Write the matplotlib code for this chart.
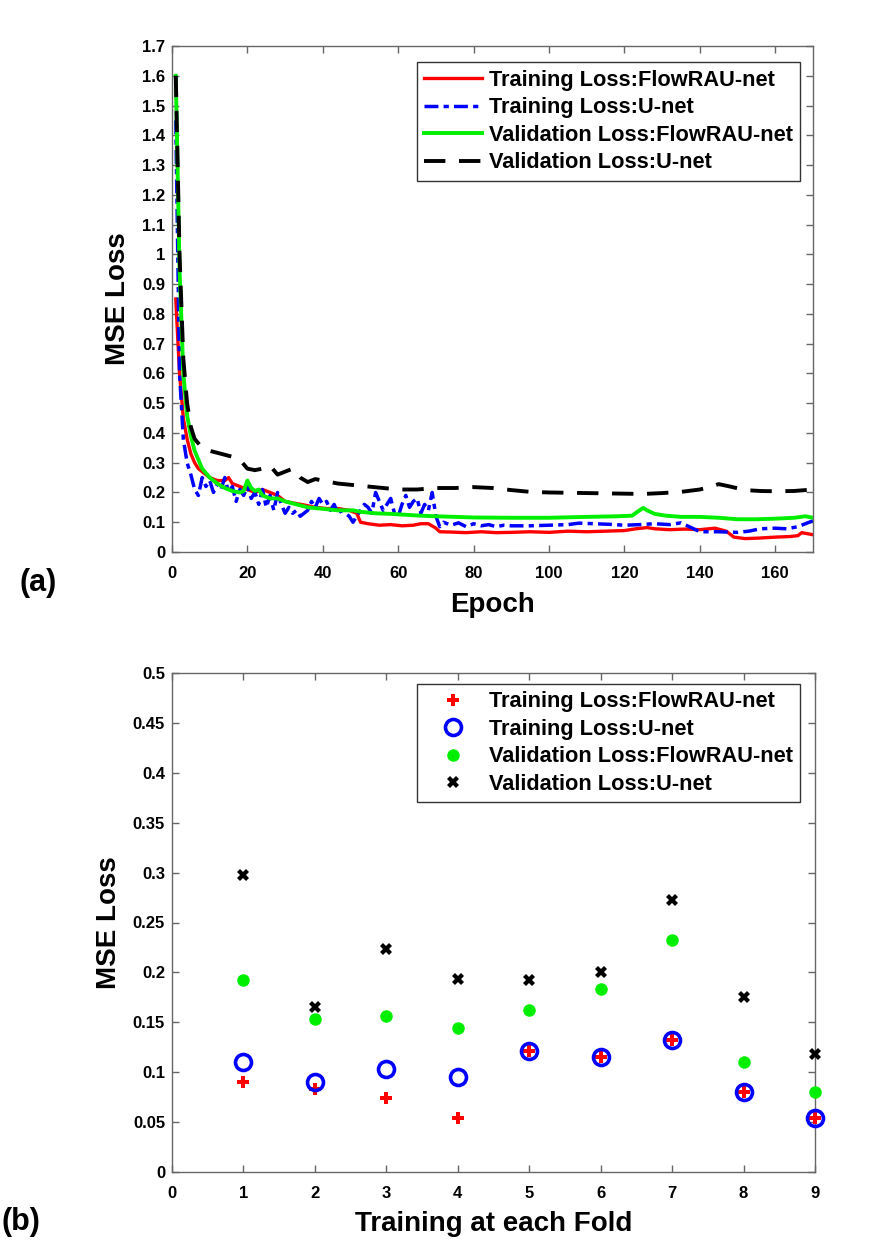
import matplotlib
matplotlib.use('Agg')
import matplotlib.pyplot as plt
import numpy as np

plt.rcParams['font.family'] = ['Liberation Sans', 'DejaVu Sans']
plt.rcParams['font.weight'] = 'bold'

# ---- (a) loss vs epoch ----
labels = ['Training Loss:FlowRAU-net', 'Training Loss:U-net',
          'Validation Loss:FlowRAU-net', 'Validation Loss:U-net']

ep_red = [1, 2, 3, 4, 5, 6, 7, 8, 9, 10, 12, 14, 15, 16, 18, 20, 22, 24, 26, 28, 30, 32, 35, 38,
          41, 44, 47, 49, 50, 52, 55, 58, 61, 64, 66, 68, 70, 71, 74, 78, 82, 86, 90, 95, 100,
          105, 110, 115, 120, 123, 126, 128, 132, 136, 140, 144, 147, 149, 152, 156, 160, 164,
          166, 167, 170]
loss_red = [0.85, 0.6, 0.45, 0.38, 0.33, 0.3, 0.28, 0.27, 0.26, 0.25, 0.24, 0.24, 0.25, 0.23,
            0.22, 0.21, 0.2, 0.21, 0.2, 0.19, 0.17, 0.165, 0.158, 0.15, 0.146, 0.146, 0.14, 0.13,
            0.1, 0.095, 0.09, 0.092, 0.088, 0.09, 0.095, 0.095, 0.08, 0.068, 0.067, 0.065, 0.068,
            0.065, 0.066, 0.068, 0.066, 0.07, 0.068, 0.07, 0.072, 0.078, 0.082, 0.078, 0.075,
            0.077, 0.075, 0.08, 0.07, 0.05, 0.045, 0.047, 0.05, 0.052, 0.055, 0.065, 0.058]

ep_blue = list(range(1, 71)) + [71, 72, 74, 76, 78, 80, 82, 84, 86, 88, 90, 95, 100, 105, 108,
                                112, 116, 120, 124, 128, 132, 135, 138, 140, 145, 150, 153, 156,
                                160, 163, 166, 168, 170]
loss_blue = [1.45, 0.6, 0.38, 0.3, 0.26, 0.21, 0.19, 0.25, 0.22, 0.24,
             0.2, 0.23, 0.21, 0.25, 0.2, 0.22, 0.17, 0.21, 0.19, 0.22,
             0.18, 0.2, 0.16, 0.21, 0.15, 0.19, 0.14, 0.2, 0.16, 0.13,
             0.15, 0.13, 0.14, 0.12, 0.13, 0.14, 0.17, 0.15, 0.18, 0.16,
             0.17, 0.14, 0.16, 0.13, 0.14, 0.13, 0.12, 0.1, 0.12, 0.14,
             0.16, 0.15, 0.13, 0.2, 0.17, 0.14, 0.16, 0.18, 0.13, 0.12,
             0.16, 0.19, 0.15, 0.17, 0.18, 0.13, 0.16, 0.14, 0.2, 0.12,
             0.085, 0.1, 0.09, 0.098, 0.085, 0.095, 0.088, 0.092, 0.085, 0.09, 0.088, 0.088,
             0.09, 0.092, 0.097, 0.095, 0.093, 0.09, 0.092, 0.095, 0.092, 0.098, 0.08, 0.068,
             0.068, 0.066, 0.07, 0.078, 0.08, 0.078, 0.085, 0.095, 0.105]

ep_green = [1, 2, 3, 4, 5, 6, 7, 8, 10, 12, 14, 16, 18, 19, 20, 21, 22, 23, 24, 26, 28, 30, 33,
            36, 40, 44, 48, 50, 54, 58, 62, 66, 70, 75, 80, 90, 100, 110, 118, 122, 124, 125,
            126, 128, 131, 135, 140, 145, 150, 155, 160, 165, 168, 170]
loss_green = [1.6, 0.95, 0.6, 0.46, 0.39, 0.34, 0.31, 0.28, 0.25, 0.23, 0.215, 0.205, 0.2, 0.205,
              0.24, 0.215, 0.205, 0.21, 0.19, 0.18, 0.18, 0.17, 0.16, 0.15, 0.145, 0.14, 0.14,
              0.135, 0.13, 0.128, 0.125, 0.122, 0.12, 0.118, 0.116, 0.115, 0.115, 0.118, 0.12,
              0.122, 0.14, 0.148, 0.14, 0.128, 0.122, 0.118, 0.118, 0.115, 0.11, 0.11, 0.112,
              0.115, 0.12, 0.115]

ep_black = [1, 2, 3, 4, 5, 6, 8, 10, 13, 16, 18, 20, 22, 24, 26, 28, 30, 32, 34, 36, 38, 40, 44,
            48, 52, 56, 60, 65, 70, 75, 80, 85, 90, 95, 100, 110, 120, 125, 130, 135, 140, 143,
            145, 148, 152, 156, 160, 165, 170]
loss_black = [1.6, 1.0, 0.65, 0.5, 0.42, 0.38, 0.35, 0.34, 0.33, 0.32, 0.31, 0.28, 0.275, 0.28,
              0.29, 0.26, 0.27, 0.28, 0.25, 0.235, 0.245, 0.24, 0.23, 0.225, 0.22, 0.215, 0.21,
              0.21, 0.215, 0.215, 0.218, 0.215, 0.208, 0.202, 0.2, 0.198, 0.196, 0.195, 0.198,
              0.202, 0.21, 0.22, 0.228, 0.22, 0.208, 0.205, 0.204, 0.205, 0.21]

# ---- (b) loss per fold ----
folds = [1, 2, 3, 4, 5, 6, 7, 8, 9]
fold_train_flow = [0.09, 0.083, 0.074, 0.054, 0.121, 0.115, 0.132, 0.08, 0.054]
fold_train_unet = [0.11, 0.09, 0.103, 0.095, 0.121, 0.115, 0.132, 0.08, 0.054]
fold_val_flow = [0.192, 0.153, 0.156, 0.144, 0.162, 0.183, 0.232, 0.11, 0.08]
fold_val_unet = [0.298, 0.165, 0.223, 0.193, 0.192, 0.2, 0.273, 0.175, 0.118]

spine_col = '#666666'


def style_axes(ax):
    for s in ax.spines.values():
        s.set_color(spine_col)
        s.set_linewidth(1.0)
    ax.tick_params(direction='in', top=True, right=True, length=5, width=1.0,
                   color=spine_col, labelsize=12)
    ax.tick_params(axis='x', pad=10)
    ax.tick_params(axis='y', pad=5)
    for lab in ax.get_xticklabels() + ax.get_yticklabels():
        lab.set_fontweight('bold')


def add_legend(ax, anchor):
    leg = ax.legend(loc='upper right', bbox_to_anchor=anchor, borderaxespad=0,
                    fontsize=15.7, handlelength=2.65, handletextpad=0.32, labelspacing=0.3,
                    fancybox=False, framealpha=1, edgecolor='#333333', borderpad=0.34)
    leg.get_frame().set_linewidth(1.0)
    return leg


fig = plt.figure(figsize=(8.95, 12.46), dpi=100)

ax1 = fig.add_axes([172/895, 1-552/1246, 641/895, 506/1246])
ax1.plot(ep_red, loss_red, color='#ff0000', lw=2.4, label=labels[0])
ax1.plot(ep_blue, loss_blue, color='#0000ff', lw=2.5, ls=(0, (4, 1.5, 1.5, 1.5)), label=labels[1])
ax1.plot(ep_green, loss_green, color='#00ee00', lw=2.8, label=labels[2])
ax1.plot(ep_black, loss_black, color='black', lw=2.8, ls=(0, (5.5, 3.5)), label=labels[3])
ax1.set_xlim(0, 170)
ax1.set_ylim(0, 1.7)
yt = np.round(np.arange(0, 1.71, 0.1), 2)
ax1.set_yticks(yt)
ax1.set_yticklabels([f'{v:g}' for v in yt])
ax1.set_xticks(np.arange(0, 161, 20))
ax1.set_xlabel('Epoch', fontsize=20, fontweight='bold', labelpad=8)
ax1.set_ylabel('MSE Loss', fontsize=20, fontweight='bold', labelpad=8)
style_axes(ax1)
add_legend(ax1, (0.98, 0.968))

ax2 = fig.add_axes([172/895, 1-1172/1246, 643/895, 499/1246])
ax2.plot(folds, fold_train_flow, ls='none', marker='P', ms=9, mfc='#ff0000', mec='#ff0000',
         mew=0, label=labels[0], clip_on=False, zorder=3)
ax2.plot(folds, fold_train_unet, ls='none', marker='o', ms=11.5, mfc='none', mec='#0000ff',
         mew=2.6, label=labels[1], clip_on=False, zorder=3)
ax2.plot(folds, fold_val_flow, ls='none', marker='o', ms=9, mfc='#00ee00', mec='#00ee00',
         mew=0, label=labels[2], clip_on=False, zorder=3)
ax2.plot(folds, fold_val_unet, ls='none', marker='X', ms=9, mfc='black', mec='black',
         mew=0, label=labels[3], clip_on=False, zorder=3)
ax2.set_xlim(0, 9)
ax2.set_ylim(0, 0.5)
yt2 = np.round(np.arange(0, 0.501, 0.05), 2)
ax2.set_yticks(yt2)
ax2.set_yticklabels([f'{v:g}' for v in yt2])
ax2.set_xticks(np.arange(0, 10, 1))
ax2.set_xlabel('Training at each Fold', fontsize=20, fontweight='bold', labelpad=7)
ax2.set_ylabel('MSE Loss', fontsize=20, fontweight='bold', labelpad=8)
style_axes(ax2)
add_legend(ax2, (0.977, 0.978))

fig.text(20/895, 1-583/1246, '(a)', fontsize=22, fontweight='bold', va='center', ha='left')
fig.text(2/895, 1-1222/1246, '(b)', fontsize=22, fontweight='bold', va='center', ha='left')

fig.savefig('out.png', dpi=100)
